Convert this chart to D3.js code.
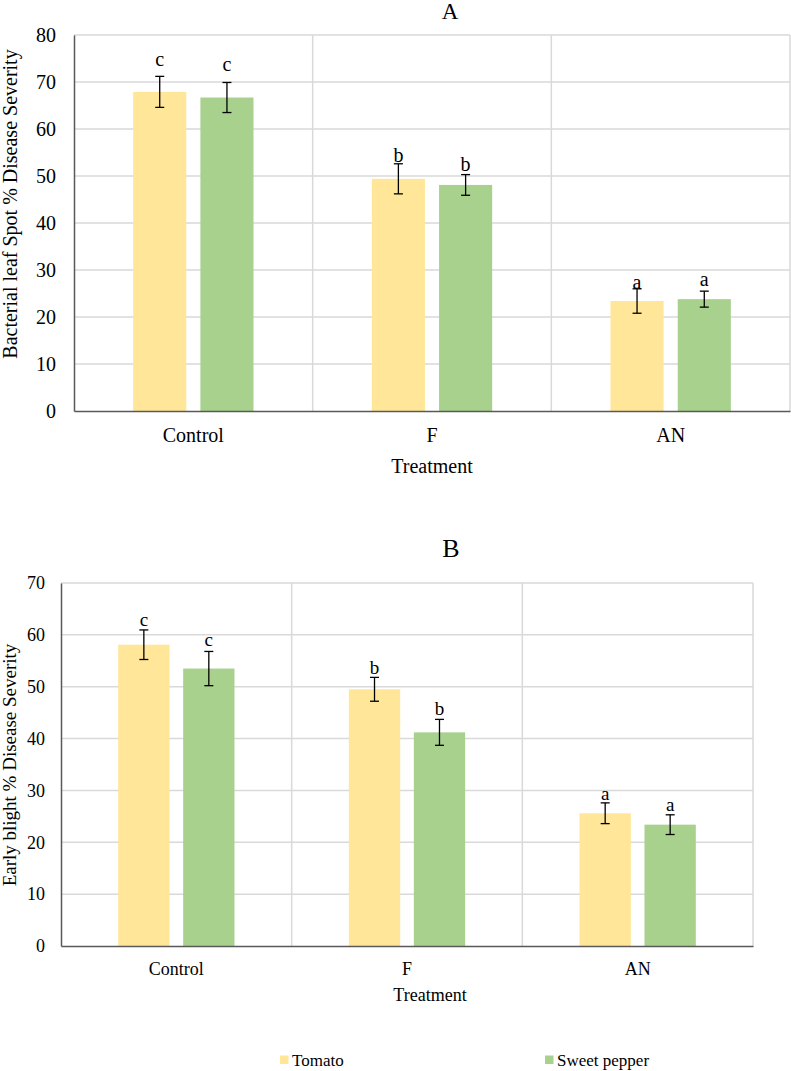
<!DOCTYPE html>
<html>
<head>
<meta charset="utf-8">
<script src="https://cdn.jsdelivr.net/npm/d3@7"></script>
<style>
  html, body { margin: 0; padding: 0; background: #fff; }
  svg { display: block; }
  svg text { font-family: "Liberation Serif", "Times New Roman", serif !important; fill: #000; }
</style>
</head>
<body>
<svg id="chart" width="791" height="1071"></svg>
<script>
// ---------------- data ----------------
const categories = ["Control", "F", "AN"];
const series = ["Tomato", "Sweet pepper"];

const titleA = "A";
const yLabelA = "Bacterial leaf Spot % Disease Severity";
const tomatoA = [67.9, 49.4, 23.4];
const pepperA = [66.7, 48.1, 23.8];
const tomatoErrA = [3.3, 3.2, 2.6];
const pepperErrA = [3.2, 2.2, 1.7];
const tomatoLettersA = ["c", "b", "a"];
const pepperLettersA = ["c", "b", "a"];
const yTicksA = [0, 10, 20, 30, 40, 50, 60, 70, 80];

const titleB = "B";
const yLabelB = "Early blight % Disease Severity";
const tomatoB = [58.1, 49.5, 25.6];
const pepperB = [53.5, 41.2, 23.4];
const tomatoErrB = [2.85, 2.3, 2.0];
const pepperErrB = [3.3, 2.5, 1.9];
const tomatoLettersB = ["c", "b", "a"];
const pepperLettersB = ["c", "b", "a"];
const yTicksB = [0, 10, 20, 30, 40, 50, 60, 70];

const xLabel = "Treatment";

// ---------------- style ----------------
const colors = { "Tomato": "#FFE699", "Sweet pepper": "#A9D18E" };
const gridColor = "#d9d9d9";
const axisColor = "#595959";

const svg = d3.select("#chart");

function drawPanel(cfg) {
  const g = svg.append("g");
  const x0 = d3.scaleBand().domain(categories).range([cfg.left, cfg.right]).padding(0);
  const x1 = d3.scaleBand().domain(series).range([0, x0.bandwidth()])
    .paddingInner(0.21).paddingOuter(0.88);
  const y = d3.scaleLinear().domain([0, d3.max(cfg.ticks)]).range([cfg.bottom, cfg.top]);

  // horizontal grid
  g.selectAll(".hgrid").data(cfg.ticks.filter(t => t > 0)).join("line")
    .attr("x1", cfg.left).attr("x2", cfg.right)
    .attr("y1", d => y(d)).attr("y2", d => y(d))
    .attr("stroke", gridColor).attr("stroke-width", 1.5);
  // vertical grid (category boundaries + right edge)
  const bounds = categories.slice(1).map(c => x0(c)).concat([cfg.right]);
  g.selectAll(".vgrid").data(bounds).join("line")
    .attr("x1", d => d).attr("x2", d => d)
    .attr("y1", cfg.top).attr("y2", cfg.bottom)
    .attr("stroke", gridColor).attr("stroke-width", 1.5);

  // bars
  const rows = [];
  categories.forEach((c, i) => {
    rows.push({ cat: c, s: "Tomato", v: cfg.tomato[i], e: cfg.tomatoErr[i], l: cfg.tomatoLetters[i], off: cfg.letterOff[i][0] });
    rows.push({ cat: c, s: "Sweet pepper", v: cfg.pepper[i], e: cfg.pepperErr[i], l: cfg.pepperLetters[i], off: cfg.letterOff[i][1] });
  });
  g.selectAll(".bar").data(rows).join("rect")
    .attr("x", d => x0(d.cat) + x1(d.s))
    .attr("width", x1.bandwidth())
    .attr("y", d => y(d.v))
    .attr("height", d => y(0) - y(d.v))
    .attr("fill", d => colors[d.s]);

  // axes
  const yAxis = d3.axisLeft(y).tickValues(cfg.ticks).tickSize(0).tickPadding(cfg.tickPad);
  const ya = g.append("g").attr("transform", `translate(${cfg.left},0)`).call(yAxis);
  ya.select(".domain").attr("stroke", axisColor).attr("stroke-width", 1.5);
  ya.selectAll("text").style("font-size", cfg.tickFont + "px");

  const xAxis = d3.axisBottom(x0).tickSize(0).tickPadding(cfg.catPad);
  const xa = g.append("g").attr("transform", `translate(0,${cfg.bottom})`).call(xAxis);
  xa.select(".domain").attr("stroke", axisColor).attr("stroke-width", 1.5);
  xa.selectAll("text").style("font-size", cfg.catFont + "px");

  // error bars
  const cap = 4.5;
  const eb = g.selectAll(".eb").data(rows).join("g")
    .attr("stroke", "#000").attr("stroke-width", 1.3);
  const cx = d => x0(d.cat) + x1(d.s) + x1.bandwidth() / 2;
  eb.append("line").attr("x1", cx).attr("x2", cx)
    .attr("y1", d => y(d.v + d.e)).attr("y2", d => y(d.v - d.e));
  eb.append("line").attr("x1", d => cx(d) - cap).attr("x2", d => cx(d) + cap)
    .attr("y1", d => y(d.v + d.e)).attr("y2", d => y(d.v + d.e));
  eb.append("line").attr("x1", d => cx(d) - cap).attr("x2", d => cx(d) + cap)
    .attr("y1", d => y(d.v - d.e)).attr("y2", d => y(d.v - d.e));

  // letters
  g.selectAll(".lt").data(rows).join("text")
    .attr("x", cx)
    .attr("y", d => y(d.v + d.e) - d.off)
    .attr("text-anchor", "middle")
    .style("font-size", cfg.letterFont + "px")
    .text(d => d.l);

  // title
  g.append("text").attr("x", cfg.titleX).attr("y", cfg.titleY)
    .attr("text-anchor", "middle").style("font-size", cfg.titleFont + "px").text(cfg.title);
  // x label
  g.append("text").attr("x", cfg.xLabelX).attr("y", cfg.xLabelY)
    .attr("text-anchor", "middle").style("font-size", cfg.xLabelFont + "px").text(xLabel);
  // y label
  g.append("text")
    .attr("transform", `translate(${cfg.yLabelX},${cfg.yLabelY}) rotate(-90)`)
    .attr("text-anchor", "middle").style("font-size", cfg.yLabelFont + "px").text(cfg.yLabel);
}

drawPanel({
  left: 74, right: 790, top: 35, bottom: 411,
  ticks: yTicksA, tomato: tomatoA, pepper: pepperA,
  tomatoErr: tomatoErrA, pepperErr: pepperErrA,
  tomatoLetters: tomatoLettersA, pepperLetters: pepperLettersA,
  letterOff: [[10, 11], [2, 4], [0, 5]],
  tickPad: 18, tickFont: 20, catPad: 17, catFont: 20, letterFont: 20,
  title: titleA, titleX: 450, titleY: 19, titleFont: 23,
  xLabelX: 432, xLabelY: 473, xLabelFont: 20,
  yLabel: yLabelA, yLabelX: 17, yLabelY: 204, yLabelFont: 20
});

drawPanel({
  left: 61, right: 753, top: 583, bottom: 946,
  ticks: yTicksB, tomato: tomatoB, pepper: pepperB,
  tomatoErr: tomatoErrB, pepperErr: pepperErrB,
  tomatoLetters: tomatoLettersB, pepperLetters: pepperLettersB,
  letterOff: [[4, 5], [3, 4], [3, 4]],
  tickPad: 16, tickFont: 18, catPad: 16, catFont: 18, letterFont: 19,
  title: titleB, titleX: 451, titleY: 557, titleFont: 26,
  xLabelX: 430, xLabelY: 1001, xLabelFont: 18,
  yLabel: yLabelB, yLabelX: 16, yLabelY: 765, yLabelFont: 19
});

// legend
const legendX = { "Tomato": 280, "Sweet pepper": 545 };
const lg = svg.append("g").selectAll("g").data(series).join("g")
  .attr("transform", d => `translate(${legendX[d]},1060)`);
lg.append("rect").attr("x", 0).attr("y", -4.5).attr("width", 8.5).attr("height", 8.5)
  .attr("fill", d => colors[d]);
lg.append("text").attr("x", 12).attr("y", 6).style("font-size", "17px").text(d => d);
</script>
</body>
</html>
